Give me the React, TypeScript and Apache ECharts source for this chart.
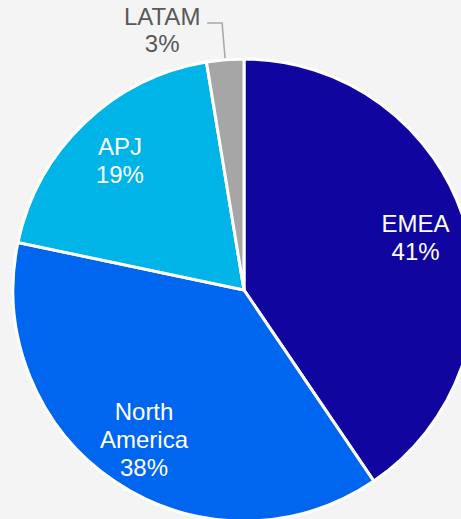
import React, { useEffect, useRef } from "react";
import * as echarts from "echarts";

const regions = ["EMEA", "North America", "APJ", "LATAM"];
const shares = [40.5, 37.8, 19.1, 2.6];
const colors = ["#10069f", "#0066f0", "#00b4e8", "#a6a6a6"];
const labelNames = ["EMEA", "North\nAmerica", "APJ", "LATAM"];

const FONT = "Arial";
const CX = 244;
const CY = 290;
const R = 231;

export default function App() {
  const ref = useRef<HTMLDivElement>(null);
  useEffect(() => {
    if (!ref.current) return;
    const chart = echarts.init(ref.current, undefined, { renderer: "svg" });
    const baseData = regions.map((name, i) => ({
      name,
      value: shares[i],
      itemStyle: { color: colors[i] },
      label:
        i === 3
          ? {
              show: true,
              position: "outside",
              padding: [14, 0, 0, 0],
              formatter: () => `{a|${labelNames[i]}}\n{a|${Math.round(shares[i])}%}`,
              rich: {
                a: {
                  width: 80,
                  align: "center",
                  fontSize: 24,
                  lineHeight: 27,
                  color: "#595959",
                  fontFamily: FONT,
                },
              },
            }
          : { show: false },
      labelLine:
        i === 3
          ? { show: true, length: 37, length2: 15, lineStyle: { color: "#a6a6a6", width: 1.5 } }
          : { show: false },
    }));
    const overlayData = regions.map((name, i) => ({
      name,
      value: shares[i],
      itemStyle: { color: "rgba(0,0,0,0)", borderWidth: 0 },
      label:
        i === 3
          ? { show: false }
          : {
              show: true,
              position: "inside",
              formatter: () => `${labelNames[i]}\n${Math.round(shares[i])}%`,
              color: "#ffffff",
              fontSize: 24,
              lineHeight: 28,
              fontFamily: FONT,
              align: "center",
            },
    }));
    chart.setOption({
      animation: false,
      backgroundColor: "#f4f4f4",
      textStyle: { fontFamily: FONT },
      series: [
        {
          type: "pie",
          center: [CX, CY],
          radius: [0, R],
          startAngle: 90,
          clockwise: true,
          avoidLabelOverlap: false,
          silent: true,
          itemStyle: { borderColor: "#ffffff", borderWidth: 3 },
          data: baseData,
        },
        {
          type: "pie",
          center: [CX, CY],
          radius: [122, R],
          startAngle: 90,
          clockwise: true,
          avoidLabelOverlap: false,
          silent: true,
          labelLine: { show: false },
          data: overlayData,
        },
      ],
    });
    return () => chart.dispose();
  }, []);
  return (
    <div
      ref={ref}
      style={{ position: "fixed", left: 0, top: 0, width: 461, height: 519 }}
    />
  );
}
